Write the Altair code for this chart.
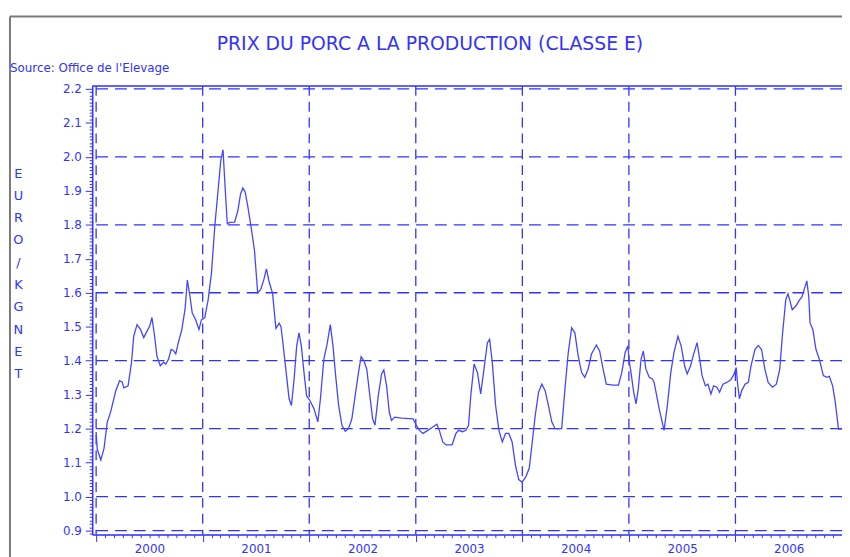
import altair as alt
import pandas as pd

TITLE = "PRIX DU PORC A LA PRODUCTION (CLASSE E)"
SOURCE = "Source: Office de l'Elevage"
Y_TITLE = ["E", "U", "R", "O", "", "/", "", "K", "G", "", "N", "E", "T"]

years = [
    2000.000, 2000.010, 2000.044, 2000.074, 2000.105, 2000.137, 2000.183, 2000.220, 2000.245, 2000.260,
    2000.300, 2000.332, 2000.353, 2000.384, 2000.416, 2000.447, 2000.477, 2000.502, 2000.524, 2000.549,
    2000.570, 2000.602, 2000.633, 2000.654, 2000.679, 2000.704, 2000.726, 2000.747, 2000.772, 2000.803,
    2000.834, 2000.856, 2000.881, 2000.902, 2000.933, 2000.965, 2000.989, 2001.020, 2001.051, 2001.082,
    2001.113, 2001.144, 2001.169, 2001.191, 2001.207, 2001.231, 2001.253, 2001.300, 2001.330, 2001.355,
    2001.377, 2001.398, 2001.423, 2001.454, 2001.486, 2001.516, 2001.545, 2001.575, 2001.598, 2001.625,
    2001.656, 2001.687, 2001.718, 2001.735, 2001.749, 2001.780, 2001.811, 2001.833, 2001.858, 2001.882,
    2001.904, 2001.926, 2001.951, 2001.975, 2002.006, 2002.044, 2002.081, 2002.105, 2002.137, 2002.167,
    2002.198, 2002.223, 2002.245, 2002.276, 2002.307, 2002.338, 2002.369, 2002.400, 2002.431, 2002.462,
    2002.487, 2002.514, 2002.540, 2002.565, 2002.595, 2002.617, 2002.648, 2002.679, 2002.700, 2002.726,
    2002.751, 2002.772, 2002.803, 2002.865, 2002.974, 2003.005, 2003.035, 2003.067, 2003.113, 2003.160,
    2003.197, 2003.221, 2003.253, 2003.284, 2003.340, 2003.377, 2003.402, 2003.440, 2003.470, 2003.495,
    2003.516, 2003.547, 2003.579, 2003.609, 2003.640, 2003.672, 2003.693, 2003.718, 2003.749, 2003.780,
    2003.812, 2003.842, 2003.873, 2003.904, 2003.935, 2003.966, 2003.997, 2004.034, 2004.065, 2004.090,
    2004.121, 2004.152, 2004.183, 2004.214, 2004.245, 2004.276, 2004.307, 2004.369, 2004.400, 2004.431,
    2004.463, 2004.493, 2004.524, 2004.556, 2004.586, 2004.617, 2004.648, 2004.695, 2004.726, 2004.758,
    2004.788, 2004.850, 2004.902, 2004.933, 2004.965, 2004.990, 2005.005, 2005.020, 2005.045, 2005.067,
    2005.088, 2005.114, 2005.135, 2005.160, 2005.191, 2005.221, 2005.237, 2005.284, 2005.330, 2005.361,
    2005.393, 2005.423, 2005.460, 2005.491, 2005.523, 2005.547, 2005.579, 2005.603, 2005.640, 2005.665,
    2005.687, 2005.718, 2005.742, 2005.770, 2005.795, 2005.826, 2005.851, 2005.882, 2005.919, 2005.956,
    2005.988, 2006.007, 2006.019, 2006.037, 2006.059, 2006.090, 2006.121, 2006.146, 2006.183, 2006.214,
    2006.245, 2006.276, 2006.307, 2006.347, 2006.384, 2006.416, 2006.440, 2006.472, 2006.493, 2006.509,
    2006.533, 2006.565, 2006.602, 2006.626, 2006.648, 2006.670, 2006.688, 2006.700, 2006.726, 2006.756,
    2006.788, 2006.825, 2006.856, 2006.881, 2006.912, 2006.937, 2006.967, 2006.998,
]

prices = [
    1.19, 1.14, 1.108, 1.142, 1.22, 1.25, 1.31, 1.341, 1.337, 1.32,
    1.326, 1.395, 1.472, 1.506, 1.492, 1.468, 1.487, 1.501, 1.527, 1.472,
    1.414, 1.385, 1.395, 1.39, 1.404, 1.433, 1.43, 1.42, 1.454, 1.49,
    1.55, 1.637, 1.589, 1.54, 1.521, 1.492, 1.521, 1.527, 1.579, 1.657,
    1.793, 1.90, 1.987, 2.021, 1.929, 1.803, 1.807, 1.808, 1.841, 1.89,
    1.908, 1.897, 1.855, 1.794, 1.725, 1.60, 1.61, 1.64, 1.67, 1.63,
    1.598, 1.495, 1.51, 1.50, 1.463, 1.375, 1.288, 1.268, 1.346, 1.443,
    1.482, 1.443, 1.365, 1.297, 1.283, 1.259, 1.22, 1.288, 1.404, 1.448,
    1.506, 1.443, 1.365, 1.268, 1.21, 1.192, 1.20, 1.229, 1.297, 1.365,
    1.412, 1.399, 1.375, 1.307, 1.229, 1.21, 1.297, 1.361, 1.373, 1.326,
    1.249, 1.224, 1.234, 1.231, 1.229, 1.21, 1.195, 1.186, 1.195, 1.205,
    1.213, 1.195, 1.161, 1.152, 1.152, 1.186, 1.195, 1.191, 1.195, 1.21,
    1.297, 1.39, 1.365, 1.302, 1.375, 1.453, 1.463, 1.395, 1.268, 1.195,
    1.161, 1.186, 1.186, 1.161, 1.093, 1.05, 1.043, 1.059, 1.084, 1.152,
    1.239, 1.307, 1.331, 1.312, 1.268, 1.22, 1.20, 1.20, 1.317, 1.424,
    1.497, 1.482, 1.414, 1.365, 1.351, 1.375, 1.419, 1.446, 1.428, 1.375,
    1.331, 1.328, 1.328, 1.365, 1.424, 1.443, 1.395, 1.365, 1.307, 1.273,
    1.317, 1.404, 1.428, 1.375, 1.351, 1.346, 1.336, 1.259, 1.195, 1.268,
    1.365, 1.424, 1.472, 1.443, 1.385, 1.361, 1.385, 1.414, 1.453, 1.404,
    1.356, 1.326, 1.331, 1.302, 1.326, 1.322, 1.307, 1.331, 1.336, 1.344,
    1.361, 1.38, 1.336, 1.288, 1.312, 1.331, 1.336, 1.385, 1.433, 1.445,
    1.433, 1.375, 1.336, 1.322, 1.331, 1.375, 1.472, 1.579, 1.597, 1.579,
    1.55, 1.56, 1.579, 1.589, 1.613, 1.635, 1.589, 1.511, 1.492, 1.433,
    1.404, 1.356, 1.351, 1.354, 1.326, 1.278, 1.199, 1.199,
]

grid_values = [0.9, 1.0, 1.2, 1.4, 1.6, 1.8, 2.0, 2.2]
year_bounds = [2000, 2001, 2002, 2003, 2004, 2005, 2006]
y_tick_values = [round(0.89 + 0.01 * k, 2) for k in range(132)]
x_tick_values = [round(2000 + k / 12, 4) for k in range(85)]

BLUE = "#3232ff"
LINE_BLUE = "#4545ff"
GRAY = "#7a7a7a"
FONT = "DejaVu Sans"

W, H = 757, 453

xscale = alt.Scale(domain=[1999.963, 2007.0], nice=False, zero=False)
yscale = alt.Scale(domain=[0.8883, 2.2087], nice=False, zero=False)

series = pd.DataFrame({"year": years, "price": prices})
grid_df = pd.DataFrame({"v": grid_values})
bounds_df = pd.DataFrame({"yr": year_bounds})
one = pd.DataFrame({"k": [0]})

x_axis = alt.Axis(
    values=x_tick_values,
    labelExpr="abs((datum.value - floor(datum.value)) - 0.5) < 0.01 ? toString(floor(datum.value)) : ''",
    labelOverlap=False,
    labelFlush=False,
    labelColor=BLUE,
    labelFont=FONT,
    labelFontSize=12,
    labelPadding=6,
    tickColor=BLUE,
    tickSize={"condition": {"test": "abs(datum.value - round(datum.value)) < 0.001", "value": 7}, "value": 3},
    domainColor=BLUE,
    domainWidth=1.5,
    grid=False,
    title=None,
)

y_axis = alt.Axis(
    values=y_tick_values,
    labelExpr="abs(datum.value * 10 - round(datum.value * 10)) < 0.001 ? format(datum.value, '.1f') : ''",
    labelOverlap=False,
    labelFlush=False,
    labelColor=BLUE,
    labelFont=FONT,
    labelFontSize=12,
    labelPadding=4,
    tickColor=BLUE,
    tickSize={"condition": {"test": "abs(datum.value * 10 - round(datum.value * 10)) < 0.001", "value": 7}, "value": 3},
    domainColor=BLUE,
    domainWidth=1.5,
    grid=False,
    title=Y_TITLE,
    titleAngle=0,
    titleAlign="center",
    titleBaseline="top",
    titleX=-75,
    titleY=82,
    titleLineHeight=22.5,
    titleColor=BLUE,
    titleFont=FONT,
    titleFontSize=13,
    titleFontWeight="normal",
)

hgrid = alt.Chart(grid_df).mark_rule(color=BLUE, strokeDash=[12, 7], strokeWidth=1.3).encode(
    y=alt.Y("v:Q", scale=yscale, axis=y_axis)
)
vgrid = alt.Chart(bounds_df).mark_rule(color=BLUE, strokeDash=[10, 6], strokeWidth=1.3).encode(
    x=alt.X("yr:Q", scale=xscale, axis=x_axis)
)
line = alt.Chart(series).mark_line(color=LINE_BLUE, strokeWidth=1.3).encode(
    x=alt.X("year:Q", scale=xscale, axis=x_axis),
    y=alt.Y("price:Q", scale=yscale, axis=y_axis),
)
top_rule = alt.Chart(one).mark_rule(color=BLUE, strokeWidth=1.5).encode(
    x=alt.value(0), x2=alt.value(W), y=alt.value(0)
)
frame_top = alt.Chart(one).mark_rule(color=GRAY, strokeWidth=2).encode(
    x=alt.value(-83), x2=alt.value(W), y=alt.value(-70)
)
frame_left = alt.Chart(one).mark_rule(color=GRAY, strokeWidth=2).encode(
    x=alt.value(-83), y=alt.value(-70), y2=alt.value(H + 25)
)
title = alt.Chart(one).mark_text(
    text=TITLE, color=BLUE, font=FONT, fontSize=19, align="center", baseline="middle"
).encode(x=alt.value(341), y=alt.value(-42))
source = alt.Chart(one).mark_text(
    text=SOURCE, color=BLUE, font=FONT, fontSize=12, align="left", baseline="middle"
).encode(x=alt.value(-83), y=alt.value(-18))

chart = alt.layer(hgrid, vgrid, line, top_rule, frame_top, frame_left, title, source).properties(
    width=W,
    height=H,
    autosize=alt.AutoSizeParams(type="none"),
    padding={"left": 85, "top": 76, "right": 0, "bottom": 20},
).configure_view(stroke=None).configure(background="white")

chart.save("out.html", embed_options={"renderer": "svg", "actions": False})
